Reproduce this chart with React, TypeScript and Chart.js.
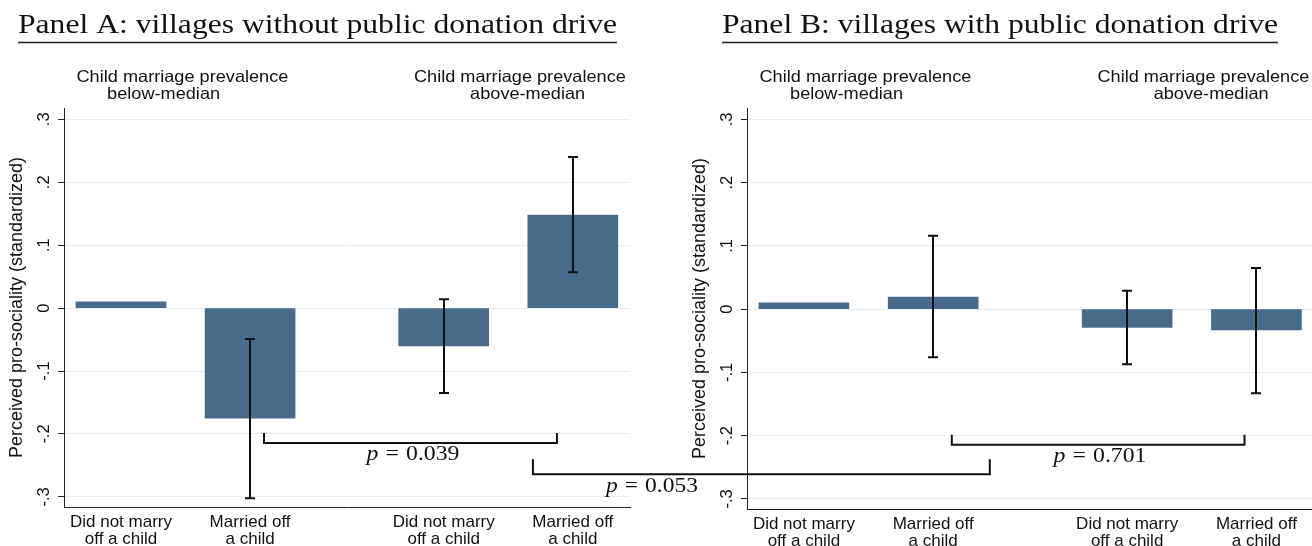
import React, { useEffect, useRef } from "react";
import { Chart, registerables } from "chart.js";

Chart.register(...registerables);

// ---------------- data ----------------
const CATEGORY_LABELS = [
  ["Did not marry", "off a child"],
  ["Married off", "a child"],
  ["Did not marry", "off a child"],
  ["Married off", "a child"],
];
const CATEGORY_X = [1, 2, 3.5, 4.5];

const GROUP_LABELS = [
  ["Child marriage prevalence", "below-median"],
  ["Child marriage prevalence", "above-median"],
];
const GROUP_LINE_X = [
  [1.476, 1.33],
  [4.09, 4.15],
];

const PANEL_TITLES = [
  "Panel A: villages without public donation drive",
  "Panel B: villages with public donation drive",
];

const A_MEAN = [0.01, -0.175, -0.06, 0.148];
const A_CI_LOW = [null, -0.302, -0.135, 0.057];
const A_CI_HIGH = [null, -0.049, 0.014, 0.24];

const B_MEAN = [0.01, 0.019, -0.029, -0.033];
const B_CI_LOW = [null, -0.076, -0.087, -0.133];
const B_CI_HIGH = [null, 0.116, 0.029, 0.065];

const Y_TICKS = [-0.3, -0.2, -0.1, 0, 0.1, 0.2, 0.3];
const Y_TICK_LABELS = ["-.3", "-.2", "-.1", "0", ".1", ".2", ".3"];
const Y_MIN = -0.316;
const Y_MAX = 0.318;
const Y_TITLE = "Perceived pro-sociality (standardized)";

const P_WITHIN_A = "0.039";
const P_WITHIN_B = "0.701";
const P_ACROSS = "0.053";

// bracket spans (data units)
const BRACKET_A = { x1: 2.108, x2: 4.377, yTop: -0.1986, yBot: -0.2145, labelX: 3.262, labelY: -0.2415 };
const BRACKET_B = { x1: 2.144, x2: 4.408, yTop: -0.1986, yBot: -0.2145, labelX: 3.29, labelY: -0.2415 };
const BRACKET_ACROSS = { x1A: 4.191, x2B: 2.438, yTop: -0.24, yBot: -0.264, labelXA: 5.113, labelY: -0.2924 };

// ---------------- styles ----------------
const BAR_COLOR = "#496b8b";
const AXIS_COLOR = "#222222";
const GRID_COLOR = "#e6edf2";
const TEXT_COLOR = "#111111";
const SANS = "'Liberation Sans', Arial, sans-serif";
const SERIF = "'Liberation Serif', 'Times New Roman', serif";
const SANS_STRETCH = 1.1;

function drawCentered(ctx: CanvasRenderingContext2D, text: string, cx: number, baseline: number, font: string, sx: number) {
  ctx.save();
  ctx.font = font;
  ctx.textAlign = "left";
  ctx.textBaseline = "alphabetic";
  const w = ctx.measureText(text).width * sx;
  ctx.translate(cx - w / 2, baseline);
  ctx.scale(sx, 1);
  ctx.fillText(text, 0, 0);
  ctx.restore();
}

function drawPLabel(ctx: CanvasRenderingContext2D, value: string, cx: number, baseline: number, targetW: number) {
  ctx.save();
  ctx.fillStyle = TEXT_COLOR;
  ctx.textAlign = "left";
  ctx.textBaseline = "alphabetic";
  const fItalic = `italic 20px ${SERIF}`;
  const fRoman = `20px ${SERIF}`;
  ctx.font = fItalic;
  const wp = ctx.measureText("p").width;
  ctx.font = fRoman;
  const eq = "=";
  const weq = ctx.measureText(eq).width;
  const wv = ctx.measureText(value).width;
  const gap = 6;
  const total = wp + gap + weq + gap + wv;
  const sx = targetW / total;
  ctx.translate(cx - targetW / 2, baseline);
  ctx.scale(sx, 1);
  ctx.font = fItalic;
  ctx.fillText("p", 0, 0);
  ctx.font = fRoman;
  ctx.fillText(eq, wp + gap, 0);
  ctx.fillText(value, wp + gap + weq + gap, 0);
  ctx.restore();
}

function drawBracket(ctx: CanvasRenderingContext2D, x1: number, x2: number, yTop: number, yBot: number) {
  ctx.save();
  ctx.strokeStyle = TEXT_COLOR;
  ctx.lineWidth = 2;
  ctx.lineJoin = "miter";
  ctx.beginPath();
  ctx.moveTo(x1, yTop);
  ctx.lineTo(x1, yBot);
  ctx.lineTo(x2, yBot);
  ctx.lineTo(x2, yTop);
  ctx.stroke();
  ctx.restore();
}

type Panel = {
  title: string;
  titleL: number;
  titleR: number;
  means: number[];
  lo: (number | null)[];
  hi: (number | null)[];
  padLeft: number;
  padRight: number;
  xMin: number;
  xMax: number;
  xAxisH: number;
  bracket: { x1: number; x2: number; yTop: number; yBot: number; labelX: number; labelY: number };
  pValue: string;
};

function makeConfig(p: Panel, extra?: (chart: any) => void): any {
  const panelPlugin = {
    id: "panelDecor",
    afterDraw(chart: any) {
      const ctx: CanvasRenderingContext2D = chart.ctx;
      const xs = chart.scales.x;
      const ys = chart.scales.y;

      // panel title with underline
      ctx.save();
      ctx.fillStyle = TEXT_COLOR;
      ctx.font = `28px ${SERIF}`;
      ctx.textAlign = "left";
      ctx.textBaseline = "alphabetic";
      const tw = ctx.measureText(p.title).width;
      const sx = (p.titleR - p.titleL) / tw;
      ctx.translate(p.titleL, 33);
      ctx.scale(sx, 1);
      ctx.fillText(p.title, 0, 0);
      ctx.restore();
      ctx.save();
      ctx.strokeStyle = "#222";
      ctx.lineWidth = 1.3;
      ctx.beginPath();
      ctx.moveTo(p.titleL, 42.5);
      ctx.lineTo(p.titleR, 42.5);
      ctx.stroke();
      ctx.restore();

      // group labels
      ctx.save();
      ctx.fillStyle = TEXT_COLOR;
      GROUP_LABELS.forEach((lines, g) => {
        lines.forEach((line, k) => {
          const cx = xs.getPixelForValue(GROUP_LINE_X[g][k]);
          drawCentered(ctx, line, cx, k === 0 ? 82 : 99, `16.5px ${SANS}`, SANS_STRETCH);
        });
      });
      ctx.restore();

      // error bars
      ctx.save();
      ctx.strokeStyle = "#111";
      ctx.lineWidth = 2;
      p.means.forEach((_, i) => {
        const lo = p.lo[i];
        const hi = p.hi[i];
        if (lo == null || hi == null) return;
        const x = Math.round(xs.getPixelForValue(CATEGORY_X[i]));
        const y1 = ys.getPixelForValue(lo);
        const y2 = ys.getPixelForValue(hi);
        ctx.beginPath();
        ctx.moveTo(x, y1);
        ctx.lineTo(x, y2);
        ctx.moveTo(x - 5, y1);
        ctx.lineTo(x + 5, y1);
        ctx.moveTo(x - 5, y2);
        ctx.lineTo(x + 5, y2);
        ctx.stroke();
      });
      ctx.restore();

      // within-panel bracket
      const b = p.bracket;
      drawBracket(ctx, xs.getPixelForValue(b.x1), xs.getPixelForValue(b.x2), ys.getPixelForValue(b.yTop), ys.getPixelForValue(b.yBot));
      drawPLabel(ctx, p.pValue, xs.getPixelForValue(b.labelX), ys.getPixelForValue(b.labelY), 93);

      if (extra) extra(chart);
    },
  };

  return {
    type: "bar",
    data: {
      datasets: [
        {
          data: p.means.map((v, i) => ({ x: CATEGORY_X[i], y: v })),
          backgroundColor: BAR_COLOR,
          borderWidth: 0,
          barThickness: 90,
        },
      ],
    },
    options: {
      responsive: false,
      animation: false,
      events: [],
      layout: { padding: { left: p.padLeft, right: p.padRight, top: 108, bottom: 0 } },
      plugins: {
        legend: { display: false },
        tooltip: { enabled: false },
        title: { display: false },
      },
      scales: {
        x: {
          type: "linear",
          min: p.xMin,
          max: p.xMax,
          offset: false,
          afterBuildTicks: (s: any) => {
            s.ticks = CATEGORY_X.map((v) => ({ value: v }));
          },
          afterFit: (s: any) => {
            s.height = p.xAxisH;
          },
          grid: { display: false, drawTicks: false, offset: false },
          border: { display: true, color: AXIS_COLOR, width: 1 },
          ticks: {
            autoSkip: false,
            minRotation: 0,
            maxRotation: 0,
            padding: 7,
            color: TEXT_COLOR,
            font: { family: SANS, size: 17, lineHeight: 1.0 },
            callback: (v: number) => {
              const idx = CATEGORY_X.indexOf(v);
              return idx >= 0 ? CATEGORY_LABELS[idx] : "";
            },
          },
        },
        y: {
          type: "linear",
          min: Y_MIN,
          max: Y_MAX,
          afterBuildTicks: (s: any) => {
            s.ticks = Y_TICKS.map((v) => ({ value: v }));
          },
          afterFit: (s: any) => {
            s.width = 64;
          },
          grid: {
            color: GRID_COLOR,
            lineWidth: 1,
            drawTicks: true,
            tickLength: 6,
            tickColor: AXIS_COLOR,
            tickWidth: 1,
          },
          border: { display: true, color: AXIS_COLOR, width: 1 },
          ticks: {
            minRotation: 90,
            maxRotation: 90,
            crossAlign: "center",
            padding: 4,
            color: TEXT_COLOR,
            font: { family: SANS, size: 16.5 },
            callback: (v: number) => {
              const idx = Y_TICKS.indexOf(v);
              return idx >= 0 ? Y_TICK_LABELS[idx] : "";
            },
          },
          title: {
            display: true,
            text: Y_TITLE,
            color: TEXT_COLOR,
            font: { family: SANS, size: 18 },
            padding: { top: 6, bottom: 0 },
          },
        },
      },
    },
    plugins: [panelPlugin],
  };
}

const PANEL_A: Panel = {
  title: PANEL_TITLES[0],
  titleL: 18,
  titleR: 617,
  means: A_MEAN,
  lo: A_CI_LOW,
  hi: A_CI_HIGH,
  padLeft: 0,
  padRight: 682,
  xMin: 0.5585,
  xMax: 4.943,
  xAxisH: 39,
  bracket: BRACKET_A,
  pValue: P_WITHIN_A,
};

const PANEL_B: Panel = {
  title: PANEL_TITLES[1],
  titleL: 722,
  titleR: 1278,
  means: B_MEAN,
  lo: B_CI_LOW,
  hi: B_CI_HIGH,
  padLeft: 683,
  padRight: 0,
  xMin: 0.56,
  xMax: 4.93,
  xAxisH: 37,
  bracket: BRACKET_B,
  pValue: P_WITHIN_B,
};

export default function App() {
  const refA = useRef<HTMLCanvasElement>(null);
  const refB = useRef<HTMLCanvasElement>(null);

  useEffect(() => {
    if (!refA.current || !refB.current) return;
    const chartA = new Chart(refA.current, makeConfig(PANEL_A));
    const chartB = new Chart(
      refB.current,
      makeConfig(PANEL_B, (chart: any) => {
        const ctx: CanvasRenderingContext2D = chart.ctx;
        const xa = chartA.scales.x;
        const ya = chartA.scales.y;
        const xb = chart.scales.x;
        const c = BRACKET_ACROSS;
        drawBracket(
          ctx,
          xa.getPixelForValue(c.x1A),
          xb.getPixelForValue(c.x2B),
          ya.getPixelForValue(c.yTop),
          ya.getPixelForValue(c.yBot)
        );
        drawPLabel(ctx, P_ACROSS, xa.getPixelForValue(c.labelXA), ya.getPixelForValue(c.labelY), 92);
      })
    );
    return () => {
      chartB.destroy();
      chartA.destroy();
    };
  }, []);

  return (
    <div style={{ position: "fixed", left: 0, top: 0, width: 1312, height: 546, background: "#ffffff" }}>
      <canvas ref={refA} width={1312} height={546} style={{ position: "absolute", left: 0, top: 0 }} />
      <canvas ref={refB} width={1312} height={546} style={{ position: "absolute", left: 0, top: 0 }} />
    </div>
  );
}
